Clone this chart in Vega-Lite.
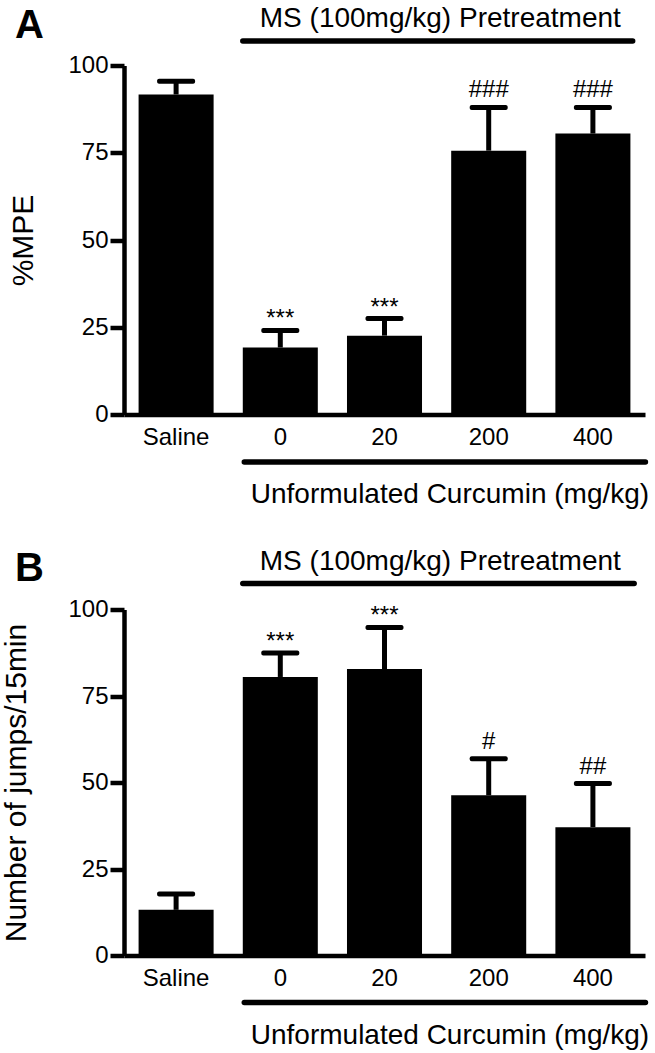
{
  "$schema": "https://vega.github.io/schema/vega-lite/v6.json",
  "background": "white",
  "padding": {"left": 1, "top": 4.5, "right": 0, "bottom": 0},
  "spacing": 38,
  "config": {
    "font": "Liberation Sans",
    "view": {"stroke": null},
    "axis": {"domainColor": "black", "tickColor": "black", "labelColor": "black", "titleColor": "black", "grid": false, "labelFont": "Liberation Sans", "titleFont": "Liberation Sans", "titleFontWeight": "normal"},
    "title": {"color": "black", "font": "Liberation Sans"},
    "text": {"color": "black", "font": "Liberation Sans"}
  },
  "datasets": {
    "a": [
      {"group": "Saline", "mean": 91.7, "upper": 95.5, "stars": "", "hashes": ""},
      {"group": "0", "mean": 19.2, "upper": 24.1, "stars": "***", "hashes": ""},
      {"group": "20", "mean": 22.6, "upper": 27.5, "stars": "***", "hashes": ""},
      {"group": "200", "mean": 75.6, "upper": 88.0, "stars": "", "hashes": "###"},
      {"group": "400", "mean": 80.5, "upper": 88.0, "stars": "", "hashes": "###"}
    ],
    "b": [
      {"group": "Saline", "mean": 13.2, "upper": 17.8, "stars": "", "hashes": ""},
      {"group": "0", "mean": 80.5, "upper": 87.4, "stars": "***", "hashes": ""},
      {"group": "20", "mean": 82.8, "upper": 94.8, "stars": "***", "hashes": ""},
      {"group": "200", "mean": 46.3, "upper": 56.9, "stars": "", "hashes": "#"},
      {"group": "400", "mean": 37.1, "upper": 49.7, "stars": "", "hashes": "##"}
    ],
    "linesA": [
      {"start": "0", "end": "400", "level": 107.0, "pos": "top"},
      {"start": "0", "end": "400", "level": -13.6, "pos": "bottom"}
    ],
    "linesB": [
      {"start": "0", "end": "400", "level": 107.5, "pos": "top"},
      {"start": "0", "end": "400", "level": -13.6, "pos": "bottom"}
    ],
    "textsA": [
      {"at": "0", "level": 110.9, "label": "MS (100mg/kg) Pretreatment", "pos": "top"},
      {"at": "0", "level": -25.5, "label": "Unformulated Curcumin (mg/kg)", "pos": "bottom"}
    ],
    "textsB": [
      {"at": "0", "level": 111.5, "label": "MS (100mg/kg) Pretreatment", "pos": "top"},
      {"at": "0", "level": -25.5, "label": "Unformulated Curcumin (mg/kg)", "pos": "bottom"}
    ]
  },
  "vconcat": [
    {
      "width": 521,
      "height": 349,
      "title": {"text": "A", "anchor": "start", "frame": "group", "fontSize": 40, "fontWeight": "bold", "dx": -109, "offset": -41},
      "layer": [
        {
          "data": {"name": "a"},
          "mark": {"type": "bar", "color": "black"},
          "encoding": {
            "x": {"field": "group", "type": "nominal", "sort": null, "scale": {"domain": ["Saline", "0", "20", "200", "400"], "paddingInner": 0.28, "paddingOuter": 0.14},
                  "axis": {"title": null, "labelAngle": 0, "ticks": false, "tickSize": 0, "domainWidth": 4.5, "labelFontSize": 24, "labelPadding": 11}},
            "y": {"field": "mean", "type": "quantitative", "scale": {"domain": [0, 100], "nice": false},
                  "axis": {"title": "%MPE", "values": [0, 25, 50, 75, 100], "tickSize": 14, "tickWidth": 4.5, "domainWidth": 4.5, "labelFontSize": 24, "labelPadding": 2, "labelFlush": false, "titleFontSize": 30, "titlePadding": 29}}
          }
        },
        {
          "data": {"name": "a"},
          "mark": {"type": "rule", "strokeWidth": 5, "color": "black", "opacity": 1},
          "encoding": {
            "x": {"field": "group", "type": "nominal", "scale": {"domain": ["Saline", "0", "20", "200", "400"], "paddingInner": 0.28, "paddingOuter": 0.14}},
            "y": {"field": "mean", "type": "quantitative", "scale": {"domain": [0, 100], "nice": false}},
            "y2": {"field": "upper"}
          }
        },
        {
          "data": {"name": "a"},
          "mark": {"type": "tick", "orient": "horizontal", "size": 38, "thickness": 5, "color": "black", "opacity": 1, "cornerRadius": 2},
          "encoding": {
            "x": {"field": "group", "type": "nominal", "scale": {"domain": ["Saline", "0", "20", "200", "400"], "paddingInner": 0.28, "paddingOuter": 0.14}},
            "y": {"field": "upper", "type": "quantitative", "scale": {"domain": [0, 100], "nice": false}}
          }
        },
        {
          "data": {"name": "a"},
          "mark": {"type": "text", "baseline": "alphabetic", "align": "center", "fontSize": 24, "dy": -4},
          "encoding": {
            "x": {"field": "group", "type": "nominal", "scale": {"domain": ["Saline", "0", "20", "200", "400"], "paddingInner": 0.28, "paddingOuter": 0.14}},
            "y": {"field": "upper", "type": "quantitative", "scale": {"domain": [0, 100], "nice": false}},
            "text": {"field": "stars"}
          }
        },
        {
          "data": {"name": "a"},
          "mark": {"type": "text", "baseline": "alphabetic", "align": "center", "fontSize": 24, "dy": -10},
          "encoding": {
            "x": {"field": "group", "type": "nominal", "scale": {"domain": ["Saline", "0", "20", "200", "400"], "paddingInner": 0.28, "paddingOuter": 0.14}},
            "y": {"field": "upper", "type": "quantitative", "scale": {"domain": [0, 100], "nice": false}},
            "text": {"field": "hashes"}
          }
        },
        {
          "data": {"name": "linesA"},
          "transform": [{"filter": "datum.pos === 'top'"}],
          "mark": {"type": "rule", "strokeWidth": 5.5, "strokeCap": "round", "color": "black"},
          "encoding": {
            "x": {"field": "start", "type": "nominal", "bandPosition": 0, "scale": {"domain": ["Saline", "0", "20", "200", "400"], "paddingInner": 0.28, "paddingOuter": 0.14}},
            "x2": {"field": "end", "bandPosition": 1.03},
            "y": {"field": "level", "type": "quantitative", "scale": {"domain": [0, 100], "nice": false}}
          }
        },
        {
          "data": {"name": "linesA"},
          "transform": [{"filter": "datum.pos === 'bottom'"}],
          "mark": {"type": "rule", "strokeWidth": 5.5, "strokeCap": "round", "color": "black"},
          "encoding": {
            "x": {"field": "start", "type": "nominal", "bandPosition": 0.02, "scale": {"domain": ["Saline", "0", "20", "200", "400"], "paddingInner": 0.28, "paddingOuter": 0.14}},
            "x2": {"field": "end", "bandPosition": 1.2},
            "y": {"field": "level", "type": "quantitative", "scale": {"domain": [0, 100], "nice": false}}
          }
        },
        {
          "data": {"name": "textsA"},
          "transform": [{"filter": "datum.pos === 'top'"}],
          "mark": {"type": "text", "align": "left", "baseline": "alphabetic", "fontSize": 28, "dx": 17},
          "encoding": {
            "x": {"field": "at", "type": "nominal", "bandPosition": 0, "scale": {"domain": ["Saline", "0", "20", "200", "400"], "paddingInner": 0.28, "paddingOuter": 0.14}},
            "y": {"field": "level", "type": "quantitative", "scale": {"domain": [0, 100], "nice": false}},
            "text": {"field": "label"}
          }
        },
        {
          "data": {"name": "textsA"},
          "transform": [{"filter": "datum.pos === 'bottom'"}],
          "mark": {"type": "text", "align": "left", "baseline": "alphabetic", "fontSize": 28, "dx": 8},
          "encoding": {
            "x": {"field": "at", "type": "nominal", "bandPosition": 0, "scale": {"domain": ["Saline", "0", "20", "200", "400"], "paddingInner": 0.28, "paddingOuter": 0.14}},
            "y": {"field": "level", "type": "quantitative", "scale": {"domain": [0, 100], "nice": false}},
            "text": {"field": "label"}
          }
        }
      ]
    },
    {
      "width": 521,
      "height": 346,
      "title": {"text": "B", "anchor": "start", "frame": "group", "fontSize": 40, "fontWeight": "bold", "dx": -109, "offset": -41},
      "layer": [
        {
          "data": {"name": "b"},
          "mark": {"type": "bar", "color": "black"},
          "encoding": {
            "x": {"field": "group", "type": "nominal", "sort": null, "scale": {"domain": ["Saline", "0", "20", "200", "400"], "paddingInner": 0.28, "paddingOuter": 0.14},
                  "axis": {"title": null, "labelAngle": 0, "ticks": false, "tickSize": 0, "domainWidth": 4.5, "labelFontSize": 24, "labelPadding": 11}},
            "y": {"field": "mean", "type": "quantitative", "scale": {"domain": [0, 100], "nice": false},
                  "axis": {"title": "Number of jumps/15min", "values": [0, 25, 50, 75, 100], "tickSize": 14, "tickWidth": 4.5, "domainWidth": 4.5, "labelFontSize": 24, "labelPadding": 2, "labelFlush": false, "titleFontSize": 30, "titlePadding": 36}}
          }
        },
        {
          "data": {"name": "b"},
          "mark": {"type": "rule", "strokeWidth": 5, "color": "black", "opacity": 1},
          "encoding": {
            "x": {"field": "group", "type": "nominal", "scale": {"domain": ["Saline", "0", "20", "200", "400"], "paddingInner": 0.28, "paddingOuter": 0.14}},
            "y": {"field": "mean", "type": "quantitative", "scale": {"domain": [0, 100], "nice": false}},
            "y2": {"field": "upper"}
          }
        },
        {
          "data": {"name": "b"},
          "mark": {"type": "tick", "orient": "horizontal", "size": 38, "thickness": 5, "color": "black", "opacity": 1, "cornerRadius": 2},
          "encoding": {
            "x": {"field": "group", "type": "nominal", "scale": {"domain": ["Saline", "0", "20", "200", "400"], "paddingInner": 0.28, "paddingOuter": 0.14}},
            "y": {"field": "upper", "type": "quantitative", "scale": {"domain": [0, 100], "nice": false}}
          }
        },
        {
          "data": {"name": "b"},
          "mark": {"type": "text", "baseline": "alphabetic", "align": "center", "fontSize": 24, "dy": -4},
          "encoding": {
            "x": {"field": "group", "type": "nominal", "scale": {"domain": ["Saline", "0", "20", "200", "400"], "paddingInner": 0.28, "paddingOuter": 0.14}},
            "y": {"field": "upper", "type": "quantitative", "scale": {"domain": [0, 100], "nice": false}},
            "text": {"field": "stars"}
          }
        },
        {
          "data": {"name": "b"},
          "mark": {"type": "text", "baseline": "alphabetic", "align": "center", "fontSize": 24, "dy": -10},
          "encoding": {
            "x": {"field": "group", "type": "nominal", "scale": {"domain": ["Saline", "0", "20", "200", "400"], "paddingInner": 0.28, "paddingOuter": 0.14}},
            "y": {"field": "upper", "type": "quantitative", "scale": {"domain": [0, 100], "nice": false}},
            "text": {"field": "hashes"}
          }
        },
        {
          "data": {"name": "linesB"},
          "transform": [{"filter": "datum.pos === 'top'"}],
          "mark": {"type": "rule", "strokeWidth": 5.5, "strokeCap": "round", "color": "black"},
          "encoding": {
            "x": {"field": "start", "type": "nominal", "bandPosition": 0, "scale": {"domain": ["Saline", "0", "20", "200", "400"], "paddingInner": 0.28, "paddingOuter": 0.14}},
            "x2": {"field": "end", "bandPosition": 1.05},
            "y": {"field": "level", "type": "quantitative", "scale": {"domain": [0, 100], "nice": false}}
          }
        },
        {
          "data": {"name": "linesB"},
          "transform": [{"filter": "datum.pos === 'bottom'"}],
          "mark": {"type": "rule", "strokeWidth": 5.5, "strokeCap": "round", "color": "black"},
          "encoding": {
            "x": {"field": "start", "type": "nominal", "bandPosition": 0.02, "scale": {"domain": ["Saline", "0", "20", "200", "400"], "paddingInner": 0.28, "paddingOuter": 0.14}},
            "x2": {"field": "end", "bandPosition": 1.2},
            "y": {"field": "level", "type": "quantitative", "scale": {"domain": [0, 100], "nice": false}}
          }
        },
        {
          "data": {"name": "textsB"},
          "transform": [{"filter": "datum.pos === 'top'"}],
          "mark": {"type": "text", "align": "left", "baseline": "alphabetic", "fontSize": 28, "dx": 17},
          "encoding": {
            "x": {"field": "at", "type": "nominal", "bandPosition": 0, "scale": {"domain": ["Saline", "0", "20", "200", "400"], "paddingInner": 0.28, "paddingOuter": 0.14}},
            "y": {"field": "level", "type": "quantitative", "scale": {"domain": [0, 100], "nice": false}},
            "text": {"field": "label"}
          }
        },
        {
          "data": {"name": "textsB"},
          "transform": [{"filter": "datum.pos === 'bottom'"}],
          "mark": {"type": "text", "align": "left", "baseline": "alphabetic", "fontSize": 28, "dx": 8},
          "encoding": {
            "x": {"field": "at", "type": "nominal", "bandPosition": 0, "scale": {"domain": ["Saline", "0", "20", "200", "400"], "paddingInner": 0.28, "paddingOuter": 0.14}},
            "y": {"field": "level", "type": "quantitative", "scale": {"domain": [0, 100], "nice": false}},
            "text": {"field": "label"}
          }
        }
      ]
    }
  ]
}
